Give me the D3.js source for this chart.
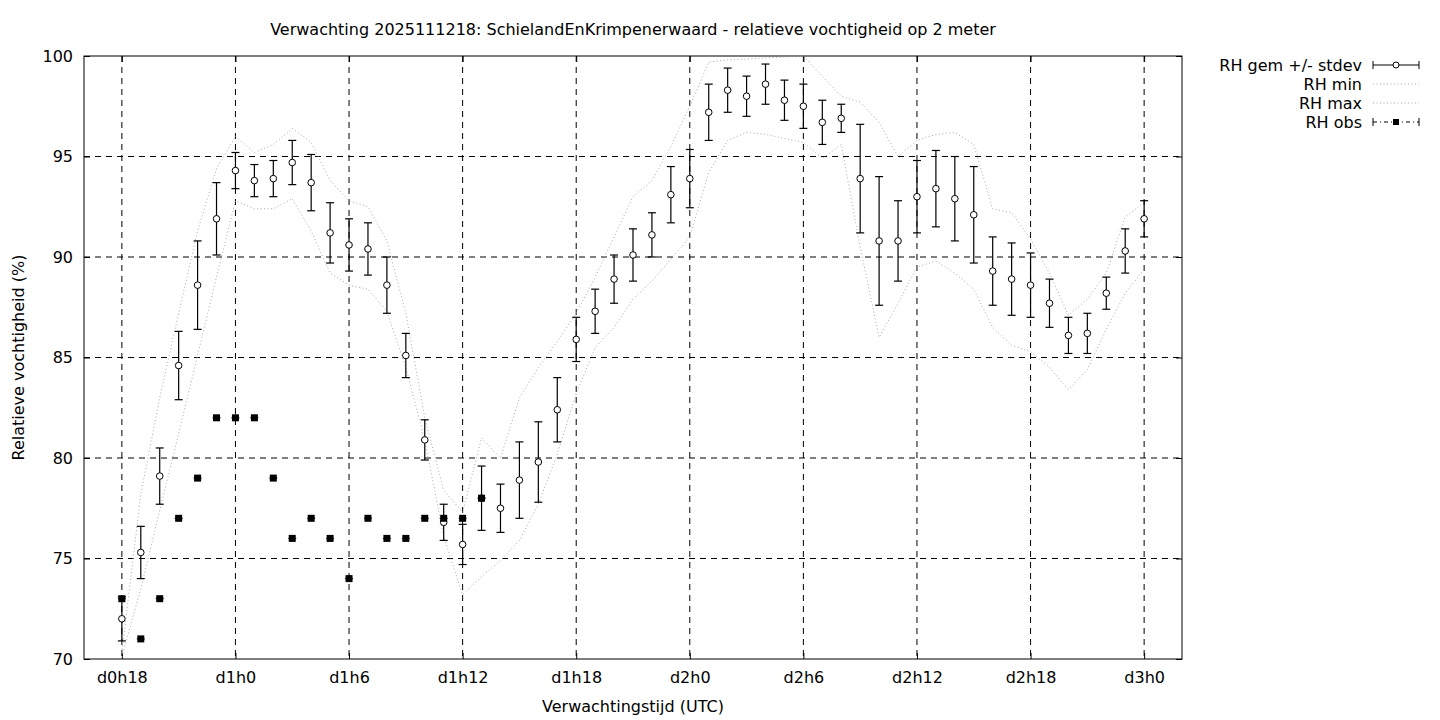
<!DOCTYPE html>
<html>
<head>
<meta charset="utf-8">
<script src="https://cdn.jsdelivr.net/npm/d3@7"></script>
<style>
  html, body { margin: 0; padding: 0; background: #fff; }
  text { font-family: "DejaVu Sans", sans-serif; }
</style>
</head>
<body>
<svg id="chart" width="1440" height="720"></svg>
<script>
// ---- data ----
const hours = d3.range(18, 73); // forecast hour 18 .. 72
const rhMean = [72.0, 75.3, 79.1, 84.6, 88.6, 91.9, 94.3, 93.8, 93.9, 94.7,
  93.7, 91.2, 90.6, 90.4, 88.6, 85.1, 80.9, 76.8, 75.7, 78.0,
  77.5, 78.9, 79.8, 82.4, 85.9, 87.3, 88.9, 90.1, 91.1, 93.1,
  93.9, 97.2, 98.3, 98.0, 98.6, 97.8, 97.5, 96.7, 96.9, 93.9,
  90.8, 90.8, 93.0, 93.4, 92.9, 92.1, 89.3, 88.9, 88.6, 87.7,
  86.1, 86.2, 88.2, 90.3, 91.9];
const rhStdev = [1.1, 1.3, 1.4, 1.7, 2.2, 1.8, 0.9, 0.8, 0.9, 1.1,
  1.4, 1.5, 1.3, 1.3, 1.4, 1.1, 1.0, 0.9, 1.0, 1.6,
  1.2, 1.9, 2.0, 1.6, 1.1, 1.1, 1.2, 1.3, 1.1, 1.4,
  1.45, 1.4, 1.1, 1.0, 1.0, 1.0, 1.1, 1.1, 0.7, 2.7,
  3.2, 2.0, 1.8, 1.9, 2.1, 2.4, 1.7, 1.8, 1.6, 1.2,
  0.9, 1.0, 0.8, 1.1, 0.9];
const rhMax = [70.3, 78.2, 83.0, 87.2, 91.3, 94.4, 96.0, 95.2, 95.6, 96.4,
  95.7, 93.8, 92.8, 92.5, 90.8, 87.2, 82.0, 78.4, 77.3, 81.0,
  80.0, 83.0, 84.5, 85.8, 87.2, 89.0, 91.0, 93.0, 93.8, 95.5,
  97.5, 99.7, 99.8, 99.85, 99.9, 99.95, 100.0, 99.0, 98.0, 97.7,
  96.7, 95.0, 95.8, 96.1, 96.2, 95.6, 92.4, 92.2, 90.9, 89.2,
  87.1, 87.9, 89.2, 92.0, 92.7];
const rhMin = [70.1, 73.5, 77.4, 81.2, 85.1, 89.0, 92.8, 92.4, 92.4, 92.9,
  91.3, 89.2, 88.6, 88.4, 87.3, 84.5, 80.9, 76.1, 73.2, 74.1,
  74.9, 75.9, 77.7, 80.2, 83.2, 85.5, 86.5, 87.9, 88.8, 89.9,
  91.0, 94.2, 95.8, 96.2, 96.1, 95.9, 95.7, 94.9, 95.6, 90.5,
  86.0, 87.7, 89.5, 89.8, 89.2, 88.4, 86.5, 85.6, 85.3, 84.5,
  83.4, 84.4, 86.4, 88.2, 89.4];
const obsHours = d3.range(18, 38);
const rhObs = [73, 71, 73, 77, 79, 82, 82, 82, 79, 76, 77, 76, 74, 77, 76, 76, 77, 77, 77, 78];
const xTickHours = [18, 24, 30, 36, 42, 48, 54, 60, 66, 72];
const xTickLabels = ["d0h18", "d1h0", "d1h6", "d1h12", "d1h18", "d2h0", "d2h6", "d2h12", "d2h18", "d3h0"];
const yTicks = [70, 75, 80, 85, 90, 95, 100];
const titleText = "Verwachting 2025111218: SchielandEnKrimpenerwaard - relatieve vochtigheid op 2 meter";
const xLabel = "Verwachtingstijd (UTC)";
const yLabel = "Relatieve vochtigheid (%)";
const legendLabels = ["RH gem +/- stdev", "RH min", "RH max", "RH obs"];

// ---- layout ----
const L = 84, R = 1182, T = 56, B = 659;
const FS = "16px";
const svg = d3.select("#chart");
const x = d3.scaleLinear().domain([16, 74]).range([L, R]);
const y = d3.scaleLinear().domain([70, 100]).range([B, T]);

const gridColor = "#000";
const dash = "6,5";

// grid
const grid = svg.append("g");
grid.selectAll("line.vx").data(xTickHours).join("line")
  .attr("x1", d => x(d)).attr("x2", d => x(d))
  .attr("y1", T).attr("y2", B)
  .attr("stroke", gridColor).attr("stroke-width", 1).attr("stroke-dasharray", dash);
grid.selectAll("line.hy").data(yTicks.filter(v => v > 70 && v < 100)).join("line")
  .attr("x1", L).attr("x2", R)
  .attr("y1", d => y(d)).attr("y2", d => y(d))
  .attr("stroke", gridColor).attr("stroke-width", 1).attr("stroke-dasharray", dash);

// axes (ticks inward, mirrored)
const tickLen = 6;
const axB = svg.append("g").attr("transform", `translate(0,${B})`)
  .call(d3.axisBottom(x).tickValues(xTickHours).tickFormat((d, i) => xTickLabels[i]).tickSizeInner(-tickLen).tickSizeOuter(0).tickPadding(13));
const axT = svg.append("g").attr("transform", `translate(0,${T})`)
  .call(d3.axisTop(x).tickValues(xTickHours).tickFormat("").tickSizeInner(-tickLen).tickSizeOuter(0));
const axL = svg.append("g").attr("transform", `translate(${L},0)`)
  .call(d3.axisLeft(y).tickValues(yTicks).tickFormat(d3.format("d")).tickSizeInner(-tickLen).tickSizeOuter(0).tickPadding(11));
const axR = svg.append("g").attr("transform", `translate(${R},0)`)
  .call(d3.axisRight(y).tickValues(yTicks).tickFormat("").tickSizeInner(-tickLen).tickSizeOuter(0));
[axB, axT, axL, axR].forEach(a => {
  a.select(".domain").remove();
  a.selectAll("line").attr("stroke", "#000");
  a.selectAll("text").attr("fill", "#000").style("font-size", FS).style("font-family", "DejaVu Sans");
});
axB.selectAll("text").attr("dy", "0.71em");

// border
svg.append("rect").attr("x", L).attr("y", T).attr("width", R - L).attr("height", B - T)
  .attr("fill", "none").attr("stroke", "#000").attr("stroke-width", 1);

// clip
svg.append("clipPath").attr("id", "clip").append("rect")
  .attr("x", L).attr("y", T).attr("width", R - L).attr("height", B - T);

const plot = svg.append("g").attr("clip-path", "url(#clip)");
const dotColor = "#a8a8a8";
const dotDash = "1,2.5";
const line = d3.line().x(d => x(d[0])).y(d => y(d[1]));
plot.append("path").datum(hours.map((h, i) => [h, rhMin[i]]))
  .attr("d", line).attr("fill", "none").attr("stroke", dotColor).attr("stroke-width", 1).attr("stroke-dasharray", dotDash);
plot.append("path").datum(hours.map((h, i) => [h, rhMax[i]]))
  .attr("d", line).attr("fill", "none").attr("stroke", dotColor).attr("stroke-width", 1).attr("stroke-dasharray", dotDash);

// error bars
const capW = 4;
const eb = plot.append("g");
const meanData = hours.map((h, i) => ({h, m: rhMean[i], s: rhStdev[i]}));
eb.selectAll("line.v").data(meanData).join("line")
  .attr("x1", d => x(d.h)).attr("x2", d => x(d.h))
  .attr("y1", d => y(d.m - d.s)).attr("y2", d => y(d.m + d.s))
  .attr("stroke", "#000").attr("stroke-width", 1.2);
eb.selectAll("line.t").data(meanData).join("line")
  .attr("x1", d => x(d.h) - capW).attr("x2", d => x(d.h) + capW)
  .attr("y1", d => y(d.m + d.s)).attr("y2", d => y(d.m + d.s))
  .attr("stroke", "#000").attr("stroke-width", 1.2);
eb.selectAll("line.b").data(meanData).join("line")
  .attr("x1", d => x(d.h) - capW).attr("x2", d => x(d.h) + capW)
  .attr("y1", d => y(d.m - d.s)).attr("y2", d => y(d.m - d.s))
  .attr("stroke", "#000").attr("stroke-width", 1.2);
eb.selectAll("circle").data(meanData).join("circle")
  .attr("cx", d => x(d.h)).attr("cy", d => y(d.m)).attr("r", 3.3)
  .attr("fill", "#fff").attr("stroke", "#000").attr("stroke-width", 1);

// observations
const obsData = obsHours.map((h, i) => ({h, v: rhObs[i]}));
const ob = plot.append("g");
ob.selectAll("line").data(obsData).join("line")
  .attr("x1", d => x(d.h) - capW).attr("x2", d => x(d.h) + capW)
  .attr("y1", d => y(d.v)).attr("y2", d => y(d.v))
  .attr("stroke", "#000").attr("stroke-width", 1);
ob.selectAll("rect").data(obsData).join("rect")
  .attr("x", d => x(d.h) - 3.5).attr("y", d => y(d.v) - 3.5)
  .attr("width", 7).attr("height", 7).attr("fill", "#000");

// titles
svg.append("text").attr("x", (L + R) / 2).attr("y", 35).attr("text-anchor", "middle")
  .style("font-size", FS).text(titleText);
svg.append("text").attr("x", (L + R) / 2).attr("y", 712).attr("text-anchor", "middle")
  .style("font-size", FS).text(xLabel);
svg.append("text").attr("transform", `translate(24,${(T + B) / 2}) rotate(-90)`).attr("text-anchor", "middle")
  .style("font-size", FS).text(yLabel);

// legend
const lg = svg.append("g");
const lx1 = 1373, lx2 = 1419, lxm = (lx1 + lx2) / 2;
const rowY = [65, 84, 103, 122];
lg.selectAll("text").data(legendLabels).join("text")
  .attr("x", 1362).attr("y", (d, i) => rowY[i]).attr("dy", "0.35em").attr("text-anchor", "end")
  .style("font-size", FS).text(d => d);
// row 0: errorbar sample
lg.append("line").attr("x1", lx1).attr("x2", lx2).attr("y1", rowY[0]).attr("y2", rowY[0]).attr("stroke", "#000").attr("stroke-width", 1);
[lx1, lx2].forEach(xx => lg.append("line").attr("x1", xx).attr("x2", xx).attr("y1", rowY[0] - 4).attr("y2", rowY[0] + 4).attr("stroke", "#000").attr("stroke-width", 1));
lg.append("circle").attr("cx", lxm).attr("cy", rowY[0]).attr("r", 3).attr("fill", "#fff").attr("stroke", "#000");
// rows 1,2: dotted
[1, 2].forEach(i => lg.append("line").attr("x1", lx1).attr("x2", lx2).attr("y1", rowY[i]).attr("y2", rowY[i])
  .attr("stroke", dotColor).attr("stroke-width", 1).attr("stroke-dasharray", dotDash));
// row 3: obs
lg.append("line").attr("x1", lx1).attr("x2", lx2).attr("y1", rowY[3]).attr("y2", rowY[3]).attr("stroke", "#000").attr("stroke-width", 1).attr("stroke-dasharray", "4,3,1,3");
[lx1, lx2].forEach(xx => lg.append("line").attr("x1", xx).attr("x2", xx).attr("y1", rowY[3] - 4).attr("y2", rowY[3] + 4).attr("stroke", "#000").attr("stroke-width", 1));
lg.append("rect").attr("x", lxm - 3).attr("y", rowY[3] - 3).attr("width", 6).attr("height", 6).attr("fill", "#000");
</script>
</body>
</html>
